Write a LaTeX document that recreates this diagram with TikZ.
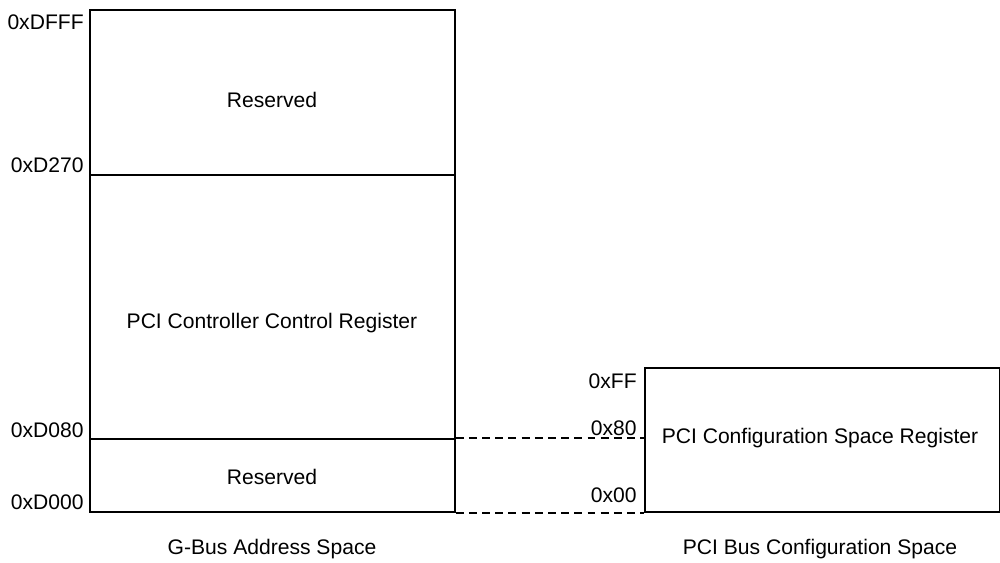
\documentclass[tikz,border=0pt]{standalone}
\usepackage{fontspec}
\setmainfont{Liberation Sans}
\usetikzlibrary{positioning, calc}
\tikzset{
  region/.style={
    draw=black,
    line width=0.9pt,
    rectangle,
    inner sep=0pt,
    minimum width=7.3cm
  },
  regtext/.style={
    inner sep=0pt,
    align=center,
    font=\fontsize{12}{14}\selectfont
  },
  addr/.style={
    anchor=east,
    inner sep=0pt,
    font=\fontsize{12}{14}\selectfont
  },
  caption/.style={
    inner sep=0pt,
    font=\fontsize{12}{14}\selectfont
  },
  dashline/.style={dashed, dash pattern=on 4.5pt off 3pt, line width=0.9pt}
}

\begin{document}
\begin{tikzpicture}[x=0.02cm,y=-0.02cm]
    \useasboundingbox (0,0) rectangle (1000,562);
    % G-Bus address space
    \node[region, minimum height=3.3cm] (resvtop) at (272.5,92.5) {};
    \node[region, minimum height=5.28cm] (ctrl) at (272.5,307) {};
    \node[region, minimum height=1.46cm] (resvlow) at (272.5,475.5) {};
    \node[regtext] (resvtoptxt) at (272,100) {Reserved};
    \node[regtext] (ctrltxt) at (272,323) {PCI Controller Control Register};
    \node[regtext] (resvlowtxt) at (272,477) {Reserved};

    % PCI configuration space
    \node[region, minimum width=7.1cm, minimum height=2.88cm] (cfg) at (822.5,440) {};
    \node[regtext] (cfgtxt) at (820,438) {PCI Configuration Space Register};

    \draw[dashline] (resvlow.north east) -- (resvlow.north east -| cfg.west);
    \draw[dashline] (resvlow.south east) -- (resvlow.south east -| cfg.west);

    % addresses
    \node[addr] (aDFFF) at (84,22) {0xDFFF};
    \node[addr] (aD270) at (84,165) {0xD270};
    \node[addr] (aD080) at (84,430) {0xD080};
    \node[addr] (aD000) at (84,502) {0xD000};
    \node[addr] (aFF) at (637,381) {0xFF};
    \node[addr] (a80) at (637,428) {0x80};
    \node[addr] (a00) at (637,495) {0x00};

    \node[caption] (gbus) at (272,549) {G-Bus Address Space};
    \node[caption] (pcibus) at (820,549) {PCI Bus Configuration Space};
\end{tikzpicture}
\end{document}
